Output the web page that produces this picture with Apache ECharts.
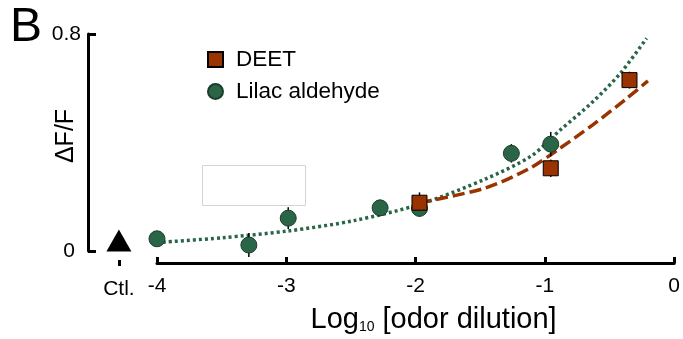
<!DOCTYPE html>
<html>
<head>
<meta charset="utf-8">
<script src="https://cdn.jsdelivr.net/npm/echarts@6/dist/echarts.min.js"></script>
<style>html,body{margin:0;padding:0;background:#fff;}#c{width:683px;height:339px;}</style>
</head>
<body>
<div id="c"></div>
<script>
// ---- data ----
const ctlX = -4.29;
const ctlY = 0.039;
const lilacX = [-4, -3.3, -3, -2.3, -2, -1.3, -1];
const lilacY = [0.045, 0.022, 0.121, 0.159, 0.157, 0.360, 0.394];
const lilacErr = [0.012, 0.044, 0.040, 0.030, 0.030, 0.034, 0.045];
const deetX = [-2, -1, -0.4];
const deetY = [0.178, 0.305, 0.630];
const deetErr = [0.038, 0.032, 0.031];
const lilacFitX = [-4, -3.5, -3, -2.5, -2, -1.5, -1.15, -0.93, -0.68, -0.47, -0.27];
const lilacFitY = [0.031, 0.049, 0.074, 0.112, 0.172, 0.265, 0.350, 0.445, 0.550, 0.655, 0.784];
const deetFitX = [-2, -1.5, -1.16, -0.95, -0.68, -0.42, -0.26];
const deetFitY = [0.178, 0.232, 0.305, 0.372, 0.465, 0.563, 0.627];
const xTickValues = [-4, -3, -2, -1, 0];
const yTickValues = [0, 0.8];
const ctlLabel = 'Ctl.';

const GREEN = '#2a6548';
const ORANGE = '#993300';
const FONT = 'Liberation Sans, Arial, sans-serif';

const zip = (xs, ys) => xs.map((x, i) => [x, ys[i]]);
const errData = (xs, ys, es) => xs.map((x, i) => [x, ys[i] - es[i], ys[i] + es[i]]);

const errRender = function (params, api) {
  const x = api.value(0), lo = api.value(1), hi = api.value(2);
  const p1 = api.coord([x, lo]), p2 = api.coord([x, hi]);
  return { type: 'line', shape: { x1: p1[0], y1: p1[1], x2: p2[0], y2: p2[1] },
           style: { stroke: '#000', lineWidth: 1.5 } };
};

const chart = echarts.init(document.getElementById('c'));
chart.setOption({
  animation: false,
  textStyle: { fontFamily: FONT },
  title: { text: 'B', left: 10, top: 4, padding: 0,
           textStyle: { fontSize: 48, fontWeight: 'normal', color: '#000', fontFamily: FONT } },
  legend: {
    data: ['DEET', 'Lilac aldehyde'], orient: 'vertical', left: 207, top: 48, padding: 0,
    itemWidth: 15, itemHeight: 15, itemGap: 9,
    textStyle: { fontSize: 22.5, color: '#000', fontFamily: FONT, padding: [0, 0, 0, 8] }
  },
  graphic: [{ type: 'rect', shape: { x: 202.5, y: 165.5, width: 103, height: 40 },
              style: { fill: 'none', stroke: '#d4d4d4', lineWidth: 1 }, silent: true }],
  grid: [
    { left: 88, right: 1, top: 34, bottom: 88 },
    { left: 157, right: 1, top: 34, bottom: 73 }
  ],
  xAxis: [
    { gridIndex: 0, type: 'value', min: -4.5255, max: 0, offset: 15,
      axisLine: { show: false, onZero: false }, splitLine: { show: false },
      axisTick: { show: true, inside: true, length: 6, customValues: [ctlX], lineStyle: { color: '#000', width: 3 } },
      axisLabel: { show: true, customValues: [ctlX], formatter: () => ctlLabel, fontSize: 21, color: '#000', margin: 13, fontFamily: FONT } },
    { gridIndex: 1, type: 'value', min: -4, max: 0, interval: 1,
      axisLine: { show: true, onZero: false, lineStyle: { color: '#000', width: 3 } }, splitLine: { show: false },
      axisTick: { show: true, inside: true, length: 6, customValues: xTickValues, lineStyle: { color: '#000', width: 3 } },
      axisLabel: { customValues: xTickValues, fontSize: 21, color: '#000', margin: 13, fontFamily: FONT, showMaxLabel: true },
      name: '{a|Log}{b|10}{a| [odor dilution]}', nameLocation: 'middle', nameGap: 42, nameMoveOverlap: false,
      nameTextStyle: { fontSize: 29, color: '#000', padding: [0, 0, 0, 36], fontFamily: FONT,
        rich: { a: { fontSize: 29, color: '#000', fontFamily: FONT },
                b: { fontSize: 14, color: '#000', fontFamily: FONT, verticalAlign: 'bottom' } } } }
  ],
  yAxis: [
    { gridIndex: 0, type: 'value', min: 0, max: 0.8, interval: 0.8,
      axisLine: { show: true, onZero: false, lineStyle: { color: '#000', width: 3 } }, splitLine: { show: false },
      axisTick: { show: true, inside: true, length: 8, lineStyle: { color: '#000', width: 3 } },
      axisLabel: { fontSize: 21, color: '#000', margin: 7, fontFamily: FONT,
        formatter: v => v === 0 ? '{z|0}' : String(v),
        rich: { z: { fontSize: 21, color: '#000', fontFamily: FONT, padding: [0, 6, 0, 0] } } },
      name: 'ΔF/F', nameLocation: 'middle', nameGap: 9, nameRotate: 90, nameMoveOverlap: false,
      nameTextStyle: { fontSize: 25, color: '#000', padding: [0, 0, 0, 13], fontFamily: FONT } },
    { gridIndex: 1, type: 'value', min: -0.0553, max: 0.8, show: false }
  ],
  series: [
    { name: 'Lilac fit', type: 'line', xAxisIndex: 0, yAxisIndex: 0, data: zip(lilacFitX, lilacFitY),
      smooth: 0.3, showSymbol: false, symbol: 'none', clip: false, z: 2,
      lineStyle: { color: GREEN, width: 3.5, type: [3, 3] } },
    { name: 'DEET fit', type: 'line', xAxisIndex: 0, yAxisIndex: 0, data: zip(deetFitX, deetFitY),
      smooth: 0.3, showSymbol: false, symbol: 'none', clip: false, z: 3,
      lineStyle: { color: ORANGE, width: 3.5, type: [12, 5] } },
    { type: 'custom', xAxisIndex: 0, yAxisIndex: 0, renderItem: errRender, clip: false, z: 4,
      data: errData(lilacX, lilacY, lilacErr), encode: { x: 0, y: [1, 2] } },
    { type: 'custom', xAxisIndex: 0, yAxisIndex: 0, renderItem: errRender, clip: false, z: 4,
      data: errData(deetX, deetY, deetErr), encode: { x: 0, y: [1, 2] } },
    { name: 'Lilac aldehyde', type: 'scatter', xAxisIndex: 0, yAxisIndex: 0, data: zip(lilacX, lilacY),
      symbol: 'circle', symbolSize: 16, clip: false, z: 5,
      itemStyle: { color: GREEN, borderColor: '#1b3d2c', borderWidth: 1, opacity: 1 } },
    { name: 'DEET', type: 'scatter', xAxisIndex: 0, yAxisIndex: 0, data: zip(deetX, deetY),
      symbol: 'rect', symbolSize: 15, clip: false, z: 6,
      itemStyle: { color: ORANGE, borderColor: '#000', borderWidth: 1, opacity: 1 } },
    { name: 'Control', type: 'scatter', xAxisIndex: 0, yAxisIndex: 0, data: [[ctlX, ctlY]],
      symbol: 'triangle', symbolSize: [25, 22], clip: false, z: 6,
      itemStyle: { color: '#000', opacity: 1 } }
  ]
});
</script>
</body>
</html>
